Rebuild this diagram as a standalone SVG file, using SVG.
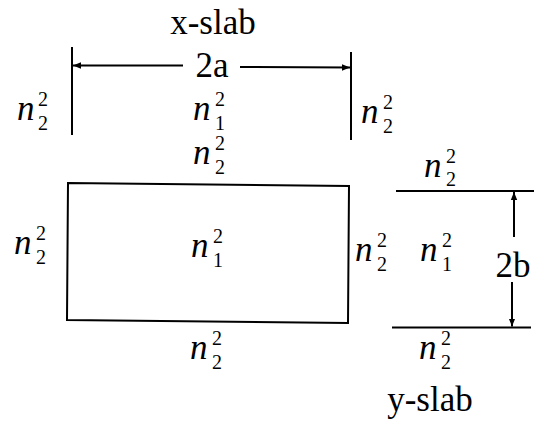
<svg xmlns="http://www.w3.org/2000/svg" width="545" height="426" viewBox="0 0 545 426">
<style>
.ln{stroke:#000;stroke-width:2;fill:none}
.t{font-family:'Liberation Serif','DejaVu Serif',serif;font-size:35px;fill:#000}
.n{font-family:'Liberation Serif','DejaVu Serif',serif;font-style:italic;font-size:35px;fill:#000}
.s{font-family:'Liberation Serif','DejaVu Serif',serif;font-style:normal;font-size:20px}
</style>
<defs>
<marker id="ah" viewBox="0 0 10 10" refX="10" refY="5" markerWidth="8" markerHeight="8" markerUnits="userSpaceOnUse" orient="auto">
<path d="M0,1 L10,5 L0,9 Z" fill="#000"/>
</marker>
</defs>
<rect width="545" height="426" fill="#fff"/>
<g id="connectors">
<line class="ln" x1="72" y1="47" x2="72" y2="135"/>
<line class="ln" x1="351" y1="52" x2="351" y2="140"/>
<line class="ln" x1="183" y1="65.5" x2="73" y2="65.5" marker-end="url(#ah)"/>
<line class="ln" x1="240" y1="67" x2="350" y2="67.5" marker-end="url(#ah)"/>
<line class="ln" x1="396" y1="191" x2="534" y2="191"/>
<line class="ln" x1="392" y1="327.5" x2="531" y2="327.5"/>
<line class="ln" x1="514" y1="237" x2="514" y2="192" marker-end="url(#ah)"/>
<line class="ln" x1="512" y1="282" x2="512" y2="326.5" marker-end="url(#ah)"/>
</g>
<g id="core">
<path class="ln" d="M68,183 L349,186 L348,323 L67,320 Z"/>
</g>
<g id="title-x"><text class="t" x="213" y="34" text-anchor="middle">x-slab</text></g>
<g id="title-y"><text class="t" x="430" y="411" text-anchor="middle">y-slab</text></g>
<g id="dim-a"><text class="t" x="212" y="77" text-anchor="middle">2a</text></g>
<g id="dim-b"><text class="t" x="513" y="277" text-anchor="middle">2b</text></g>
<g id="xs-left"><text class="n" x="17" y="120">n<tspan class="s" x="38" y="106">2</tspan><tspan class="s" x="38" y="130">2</tspan></text></g>
<g id="xs-core"><text class="n" x="193" y="120">n<tspan class="s" x="215" y="106">2</tspan><tspan class="s" x="215" y="130">1</tspan></text></g>
<g id="xs-right"><text class="n" x="361" y="123">n<tspan class="s" x="383" y="109">2</tspan><tspan class="s" x="383" y="133">2</tspan></text></g>
<g id="xs-below"><text class="n" x="193" y="164">n<tspan class="s" x="215" y="150">2</tspan><tspan class="s" x="215" y="174">2</tspan></text></g>
<g id="g-left"><text class="n" x="14" y="254">n<tspan class="s" x="36" y="240">2</tspan><tspan class="s" x="36" y="264">2</tspan></text></g>
<g id="g-core"><text class="n" x="191" y="257">n<tspan class="s" x="213" y="243">2</tspan><tspan class="s" x="213" y="267">1</tspan></text></g>
<g id="g-right"><text class="n" x="355" y="261">n<tspan class="s" x="377" y="247">2</tspan><tspan class="s" x="377" y="271">2</tspan></text></g>
<g id="g-bottom"><text class="n" x="190" y="359">n<tspan class="s" x="212" y="345">2</tspan><tspan class="s" x="212" y="369">2</tspan></text></g>
<g id="ys-top"><text class="n" x="424" y="177">n<tspan class="s" x="446" y="163">2</tspan><tspan class="s" x="446" y="186">2</tspan></text></g>
<g id="ys-core"><text class="n" x="420" y="261">n<tspan class="s" x="442" y="247">2</tspan><tspan class="s" x="442" y="271">1</tspan></text></g>
<g id="ys-bottom"><text class="n" x="419" y="359">n<tspan class="s" x="441" y="345">2</tspan><tspan class="s" x="441" y="369">2</tspan></text></g>
</svg>
